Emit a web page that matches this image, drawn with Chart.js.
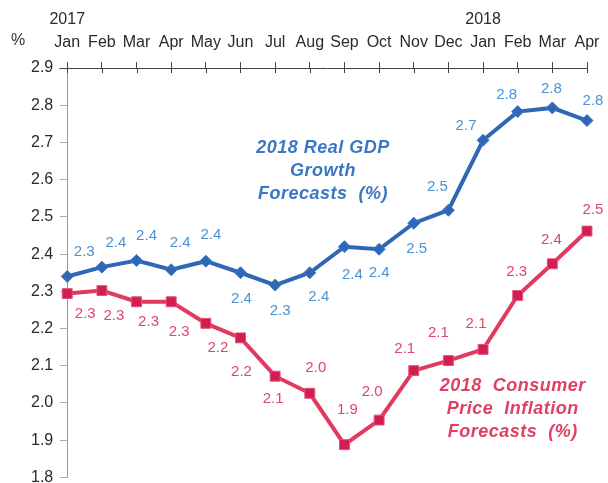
<!DOCTYPE html>
<html>
<head>
<meta charset="utf-8">
<script src="https://cdn.jsdelivr.net/npm/chart.js@4.4.1/dist/chart.umd.min.js"></script>
<style>
html,body{margin:0;padding:0;background:#fff;overflow:hidden;}
#wrap{width:608px;height:494px;}
</style>
</head>
<body>
<div id="wrap"><canvas id="c" width="608" height="494"></canvas></div>
<script>
// ---- data ----
const months = ['Jan','Feb','Mar','Apr','May','Jun','Jul','Aug','Sep','Oct','Nov','Dec','Jan','Feb','Mar','Apr'];
const years  = ['2017','','','','','','','','','','','','2018','','',''];
const gdpForecast = [2.34,2.365,2.383,2.358,2.381,2.35,2.317,2.35,2.42,2.413,2.483,2.518,2.706,2.783,2.793,2.759];
const cpiForecast = [2.294,2.302,2.272,2.272,2.214,2.175,2.072,2.026,1.888,1.954,2.087,2.114,2.144,2.289,2.374,2.462];
const yTicks = [1.8,1.9,2.0,2.1,2.2,2.3,2.4,2.5,2.6,2.7,2.8,2.9];
const gdpTitle = ['2018 Real GDP','Growth','Forecasts  (%)'];
const cpiTitle = ['2018  Consumer','Price  Inflation','Forecasts  (%)'];

// label placement (pixel offsets from each point)
const gdpLabelOffsets = [[17,-25],[14,-24],[10,-25],[9,-27],[5,-26],[1,26],[5,26],[9,24],[8,28],[0,24],[3,26],[-11,-23],[-17,-14],[-11,-17],[-1,-19],[6,-20]];
const cpiLabelOffsets = [[18,20],[12,25],[12,20],[8,30],[12,25],[1,34],[-2,23],[6,-25],[3,-35],[-7,-28],[-9,-22],[-10,-28],[-7,-26],[-1,-24],[-1,-24],[6,-21]];

const FONT = '"Liberation Sans", Arial, Helvetica, sans-serif';
const BLUE_LINE = '#2f67b5', BLUE_TXT = '#4a92d6', BLUE_TITLE = '#3a76c4';
const RED_LINE = '#e13a60', RED_PT = '#d21e4c', RED_TXT = '#e04669', RED_TITLE = '#df3f62';

const labels = months.map((m,i)=> years[i] ? [years[i], m] : m);

const decorPlugin = {
  id: 'decor',
  afterDraw(chart) {
    const ctx = chart.ctx;
    const xs = chart.scales.x, ys = chart.scales.y;
    const top = chart.chartArea.top;
    ctx.save();
    // inner halves of crossing ticks on top axis
    ctx.strokeStyle = '#444';
    ctx.lineWidth = 1;
    for (let i = 0; i < months.length; i++) {
      const x = Math.round(xs.getPixelForValue(i)) + 0.5;
      ctx.beginPath(); ctx.moveTo(x, top); ctx.lineTo(x, top + 5); ctx.stroke();
    }
    // left extension of top axis line
    ctx.beginPath(); ctx.moveTo(chart.chartArea.left - 8, top + 0.5); ctx.lineTo(chart.chartArea.left, top + 0.5); ctx.stroke();
    // % unit
    ctx.fillStyle = '#333';
    ctx.font = '16px ' + FONT;
    ctx.textAlign = 'center';
    ctx.textBaseline = 'middle';
    ctx.fillText('%', 18, 41);
    // value labels
    ctx.font = '15px ' + FONT;
    const drawLabels = (di, vals, offs, color) => {
      const meta = chart.getDatasetMeta(di);
      ctx.fillStyle = color;
      meta.data.forEach((pt, i) => {
        ctx.fillText(vals[i].toFixed(1), pt.x + offs[i][0], pt.y + offs[i][1]);
      });
    };
    drawLabels(0, gdpForecast, gdpLabelOffsets, BLUE_TXT);
    drawLabels(1, cpiForecast, cpiLabelOffsets, RED_TXT);
    // series titles
    ctx.font = 'italic bold 18px ' + FONT;
    try { ctx.letterSpacing = '0.5px'; } catch(e) {}
    ctx.fillStyle = BLUE_TITLE;
    const gx = xs.getPixelForValue(7.38);
    gdpTitle.forEach((t, k) => ctx.fillText(t, gx, ys.getPixelForValue(2.685 - k*0.062)));
    ctx.fillStyle = RED_TITLE;
    const rx = xs.getPixelForValue(12.86);
    cpiTitle.forEach((t, k) => ctx.fillText(t, rx, ys.getPixelForValue(2.045 - k*0.061)));
    ctx.restore();
  }
};

new Chart(document.getElementById('c'), {
  type: 'line',
  data: {
    labels: labels,
    datasets: [
      {
        label: '2018 Real GDP Growth Forecasts (%)',
        data: gdpForecast,
        borderColor: BLUE_LINE,
        backgroundColor: BLUE_LINE,
        borderWidth: 4,
        pointStyle: 'rectRot',
        pointRadius: 6,
        pointBorderWidth: 1,
        pointBorderColor: '#3d78c6',
        tension: 0
      },
      {
        label: '2018 Consumer Price Inflation Forecasts (%)',
        data: cpiForecast,
        borderColor: RED_LINE,
        backgroundColor: RED_PT,
        borderWidth: 4,
        pointStyle: 'rect',
        pointRadius: 7,
        pointBorderWidth: 1,
        pointBorderColor: '#e2507a',
        tension: 0
      }
    ]
  },
  options: {
    responsive: false,
    animation: false,
    devicePixelRatio: 1,
    layout: { padding: { left: 24, right: 21, top: 0, bottom: 0 } },
    plugins: { legend: { display: false }, tooltip: { enabled: false } },
    scales: {
      x: {
        type: 'category',
        position: 'top',
        offset: false,
        grid: { display: true, drawOnChartArea: false, drawTicks: true, tickLength: 6, color: '#444', lineWidth: 1 },
        border: { display: true, color: '#444', width: 1 },
        ticks: {
          color: '#2a2a2a',
          font: { family: FONT, size: 16, lineHeight: 1.44 },
          padding: 8,
          maxRotation: 0,
          autoSkip: false
        }
      },
      y: {
        min: 1.8,
        max: 2.9,
        afterBuildTicks(scale) { scale.ticks = yTicks.map(v => ({ value: v })); },
        grid: { display: true, drawOnChartArea: false, drawTicks: true, tickLength: 7, color: '#aaa', lineWidth: 1 },
        border: { display: true, color: '#999', width: 1 },
        ticks: {
          color: '#2a2a2a',
          font: { family: FONT, size: 16 },
          padding: 7,
          callback: (v) => Number(v).toFixed(1)
        }
      }
    }
  },
  plugins: [decorPlugin]
});
</script>
</body>
</html>
